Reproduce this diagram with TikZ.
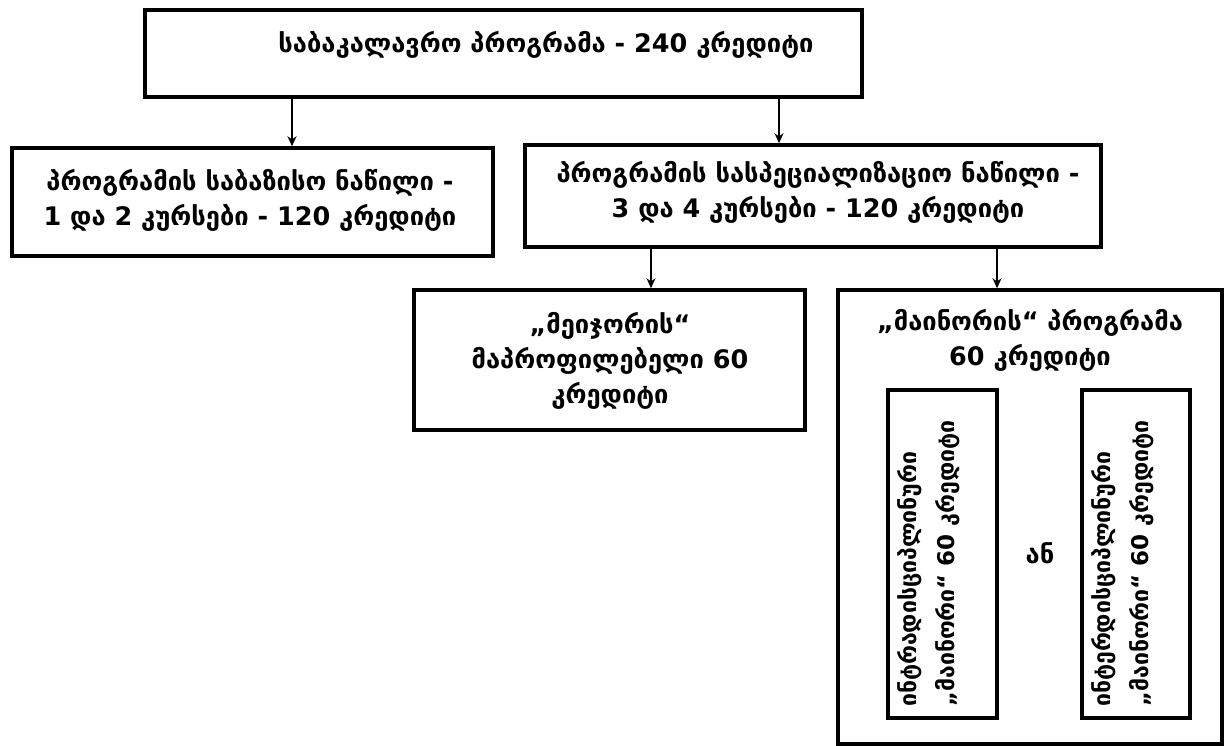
\documentclass[tikz,border=0pt]{standalone}
\usepackage{fontspec}
\setmainfont{DejaVu Sans}
\usetikzlibrary{arrows.meta}
\begin{document}
\begin{tikzpicture}[x=1pt,y=-1pt,
  box/.style={draw, line width=3.5pt, inner sep=0pt},
  txt/.style={font=\bfseries\fontsize{25.5}{35}\selectfont, align=center, inner sep=0pt},
  rtxt/.style={font=\bfseries\fontsize{23}{38}\selectfont, align=left, inner sep=0pt, rotate=90, anchor=west},
  arr/.style={-{Stealth[length=10pt,width=9pt]}, line width=1.2pt}]
\useasboundingbox (0,0) rectangle (1225,746);
% boxes
\node[box, minimum width=717pt, minimum height=87pt] (top) at (503.5,53.5) {};
\node[box, minimum width=481pt, minimum height=108pt] (base) at (252.5,202) {};
\node[box, minimum width=576pt, minimum height=102pt] (spec) at (813,196) {};
\node[box, minimum width=391pt, minimum height=140pt] (major) at (609.5,360) {};
\node[box, minimum width=384pt, minimum height=454pt] (minor) at (1030,517) {};
\node[box, minimum width=109pt, minimum height=328pt] (intra) at (942.5,554) {};
\node[box, minimum width=108pt, minimum height=328pt] (inter) at (1136,554) {};
% texts
\node[txt] (ttop) at (546,45) {საბაკალავრო პროგრამა - 240 კრედიტი};
\node[txt] (tbase) at (250,200.5) {პროგრამის საბაზისო ნაწილი -\\1 და 2 კურსები - 120 კრედიტი};
\node[txt] (tspec) at (818,192) {პროგრამის სასპეციალიზაციო ნაწილი -\\3 და 4 კურსები - 120 კრედიტი};
\node[txt] (tmajor) at (610,361) {„მეიჯორის“\\მაპროფილებელი 60\\კრედიტი};
\node[txt] (tminor) at (1030,340) {„მაინორის“ პროგრამა\\60 კრედიტი};
\node[rtxt] (tintra) at (929,707) {ინტრადისციპლინური\\„მაინორი“ 60 კრედიტი};
\node[rtxt] (tinter) at (1123,707) {ინტერდისციპლინური\\„მაინორი“ 60 კრედიტი};
\node[txt] (or) at (1040,553) {ან};
% arrows
\coordinate (a1) at (292,0);
\coordinate (a2) at (779,0);
\coordinate (a3) at (651,0);
\coordinate (a4) at (997,0);
\draw[arr] (top.south -| a1) -- (base.north -| a1);
\draw[arr] (top.south -| a2) -- (spec.north -| a2);
\draw[arr] (spec.south -| a3) -- (major.north -| a3);
\draw[arr] (spec.south -| a4) -- (minor.north -| a4);
\end{tikzpicture}
\end{document}
